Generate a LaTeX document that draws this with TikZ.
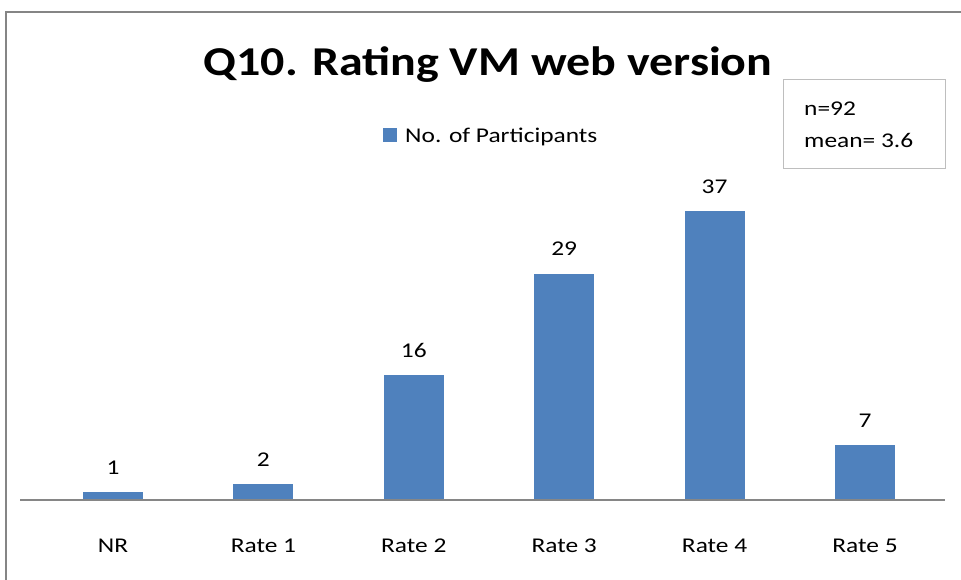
\documentclass[tikz,border=0pt]{standalone}
\usepackage{fontspec}
\setmainfont{Carlito}
\definecolor{barblue}{HTML}{4F81BD}
\definecolor{framegray}{HTML}{858585}
\definecolor{boxgray}{HTML}{BEBEBE}
\definecolor{axisgray}{HTML}{868686}
\newcommand{\widetext}[1]{\scalebox{1.21}[1]{#1}}
\tikzset{
  vlabel/.style = {font=\fontsize{21}{25}\selectfont, anchor=base, inner sep=0pt},
  catlabel/.style = {font=\fontsize{21}{25}\selectfont, anchor=base, inner sep=0pt},
  statlabel/.style = {font=\fontsize{21}{25}\selectfont, anchor=base west, inner sep=0pt}
}
\begin{document}
\begin{tikzpicture}[x = 1pt, y = -1pt]
    \useasboundingbox (0,0) rectangle (961,579);
    \draw[framegray, line width=1.6pt] (6,600) -- (6,12) -- (980,12);
    \node[font=\bfseries\fontsize{41}{48}\selectfont, anchor=base, inner sep=0pt] (title) at (488,75) {\scalebox{1.17}[1]{Q10. Rating VM web version}};
    \fill[barblue] (383,128) rectangle (397,142);
    \node[statlabel] (legend) at (405,142) {\widetext{No. of Participants}};
    \node[draw=boxgray, line width=1.3pt, anchor=north west, minimum width=162pt, minimum height=89pt] (stats) at (783,79) {};
    \node[statlabel] (count) at (804,115) {\widetext{n=92}};
    \node[statlabel] (mean) at (804,147) {\widetext{mean= 3.6}};
    \foreach \cat/\val [count=\i] in {NR/1, Rate 1/2, Rate 2/16, Rate 3/29, Rate 4/37, Rate 5/7}
    {
        \pgfmathsetmacro\xc{113+150.4*(\i-1)}
        \pgfmathsetmacro\yt{500-7.81*\val}
        \fill[barblue] (\xc-30,500) rectangle (\xc+30,\yt);
        \node[vlabel] (val\i) at (\xc,\yt-18) {\widetext{\val}};
        \node[catlabel] (cat\i) at (\xc,552) {\widetext{\cat}};
    }
    \draw[axisgray, line width=1.3pt] (20,500) -- (945,500);
\end{tikzpicture}
\end{document}
